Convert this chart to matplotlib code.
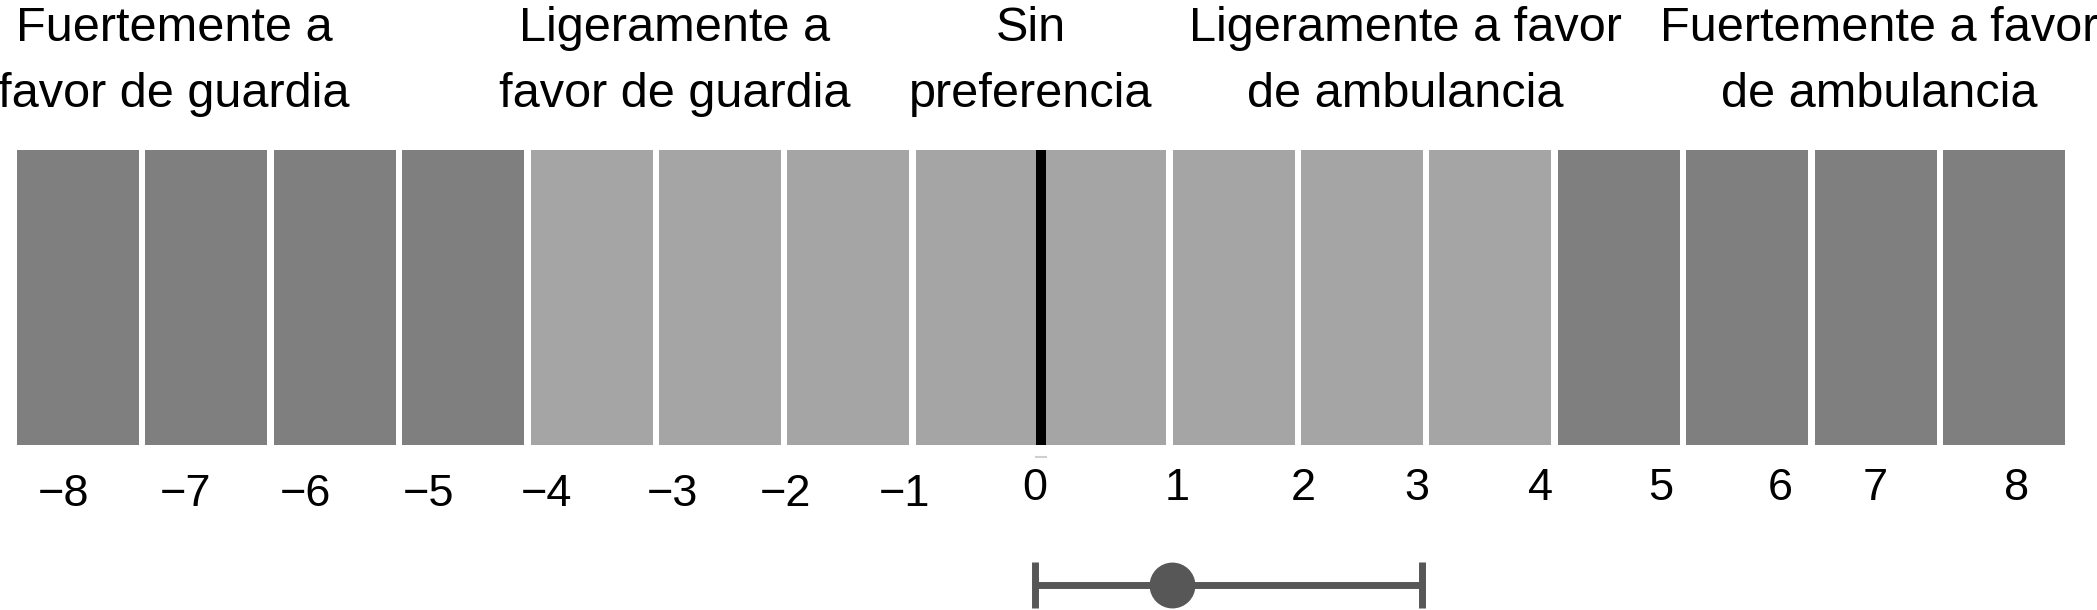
import matplotlib.pyplot as plt
import numpy as np

plt.rcParams['font.family'] = ['Liberation Sans', 'DejaVu Sans']

# cells of the preference scale, from -8 to 8 (left edge of each cell)
cell_left = np.arange(-8, 8)
cell_kind = ['fuerte'] * 4 + ['ligero'] * 8 + ['fuerte'] * 4
kind_color = {'fuerte': '#7f7f7f', 'ligero': '#a5a5a5'}

# scale labels, placed where they sit in the picture
tick_labels = ['\u22128', '\u22127', '\u22126', '\u22125', '\u22124', '\u22123', '\u22122', '\u22121',
               '0', '1', '2', '3', '4', '5', '6', '7', '8']
tick_pos = [-7.61, -6.66, -5.73, -4.77, -3.85, -2.87, -1.99, -1.06,
            -0.05, 1.06, 2.04, 2.93, 3.89, 4.83, 5.76, 6.50, 7.60]

headers = ['Fuertemente a\nfavor de guardia', 'Ligeramente a\nfavor de guardia',
           'Sin\npreferencia', 'Ligeramente a favor\nde ambulancia',
           'Fuertemente a favor\nde ambulancia']
header_pos = [-6.75, -2.85, -0.08, 2.84, 6.53]

# mean preference with its interval
pref_mean = 1.02
pref_low = -0.05
pref_high = 2.97

fig = plt.figure(figsize=(20.97, 6.10), dpi=100)
ax = fig.add_axes([0, 0, 1, 1])
ax.set_xlim(-8.107, 8.224)
ax.set_ylim(-0.559, 1.508)
ax.axis('off')

ax.bar(cell_left + 0.5, 1, width=0.95, bottom=0,
       color=[kind_color[k] for k in cell_kind], edgecolor='none')
ax.vlines(0, 0, 1, color='black', lw=7.2)
ax.plot([-0.04, 0.04], [-0.04, -0.04], color='#cfcfcf', lw=1.5)

for lab, x in zip(tick_labels, tick_pos):
    y = -0.166 if lab.startswith('\u2212') else -0.146
    ax.text(x, y, lab, ha='center', va='center', fontsize=32.5, color='black')

for txt, x in zip(headers, header_pos):
    ax.text(x, 1.146, txt, ha='center', va='baseline', fontsize=35,
            linespacing=1.6, color='black', multialignment='center')

ax.errorbar(pref_mean, -0.475,
            xerr=[[pref_mean - pref_low], [pref_high - pref_mean]],
            fmt='o', ms=32, color='#575757', elinewidth=5,
            capsize=16.5, capthick=5, clip_on=False)

fig.savefig('out.png', dpi=100)
